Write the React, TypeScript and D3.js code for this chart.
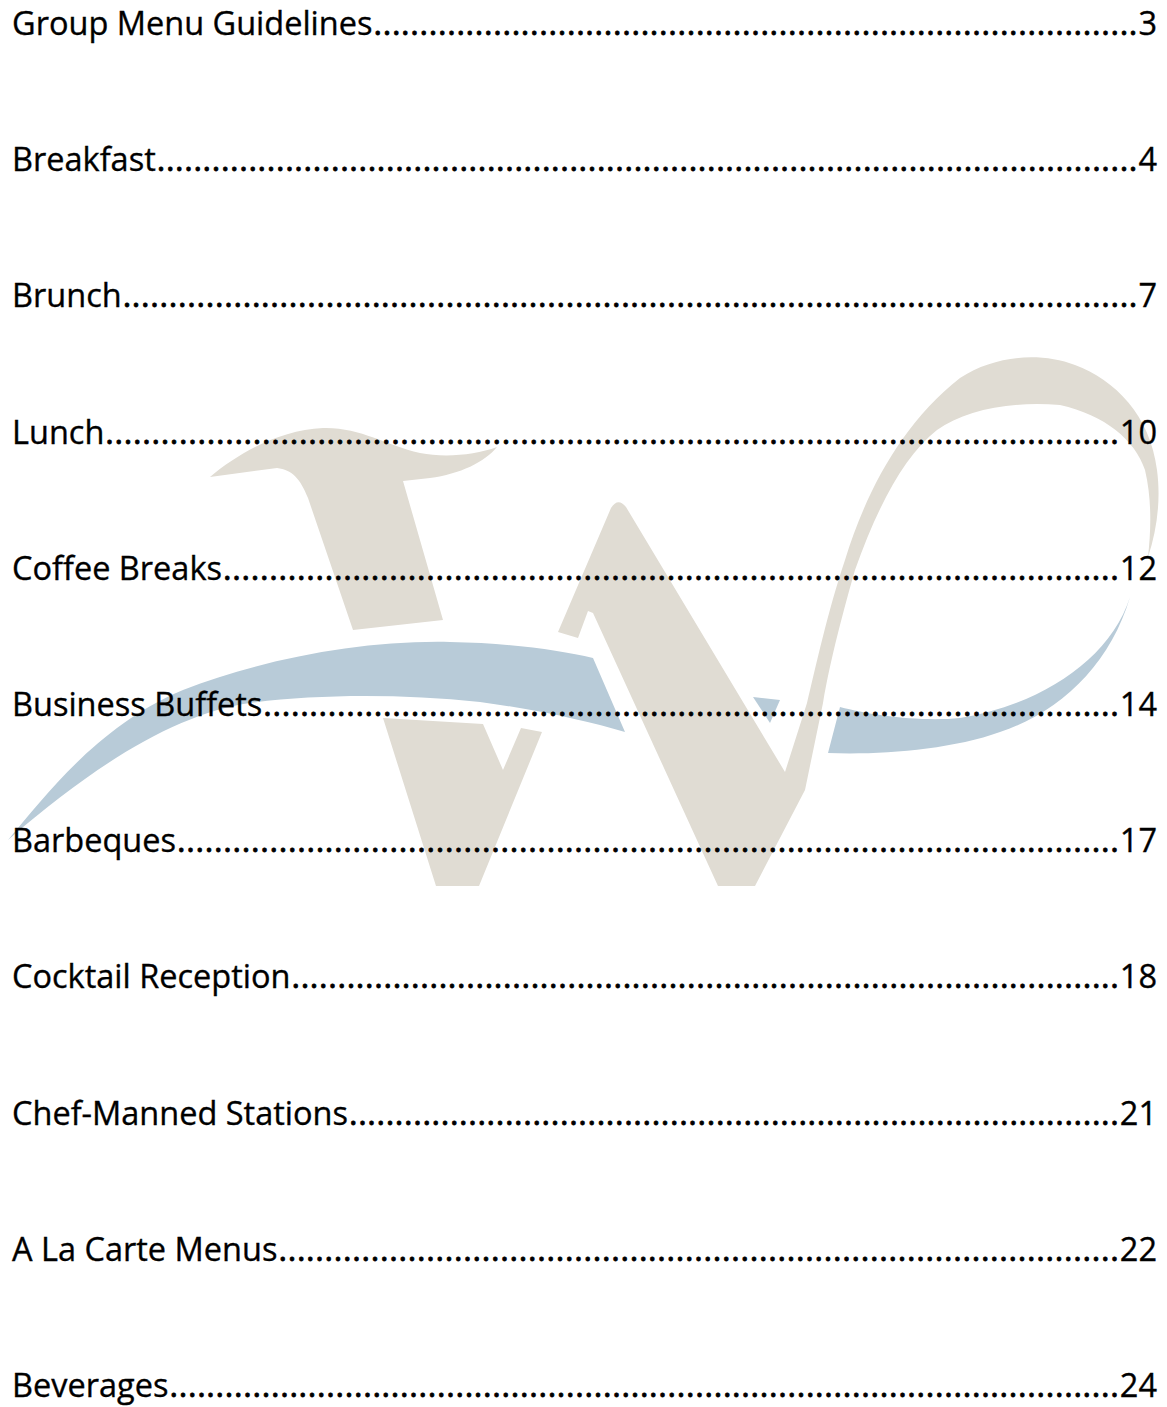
import React from "react";
import * as d3 from "d3";

// table of contents: section titles and their page numbers
const sections = [
  "Group Menu Guidelines",
  "Breakfast",
  "Brunch",
  "Lunch",
  "Coffee Breaks",
  "Business Buffets",
  "Barbeques",
  "Cocktail Reception",
  "Chef-Manned Stations",
  "A La Carte Menus",
  "Beverages",
];
const pages = [3, 4, 7, 10, 12, 14, 17, 18, 21, 22, 24];

const width = 1167;
const height = 1407;

// watermark "W" logo shapes
const beige = "#e0dcd3";
const blue = "#b8cbd8";
const logoBeige = [
  // left stroke with serif
  "M210,477 C240,452 280,430 323,428 C360,427 385,445 420,453 C445,458 475,455 497,447 C485,462 460,474 430,478 L403,481 L443,620 L353,630 L308,498 C300,478 292,470 277,468 Z",
  // lower part of left V
  "M383,718 L483,724 L503,770 L521,728 L542,732 L479,886 L436,886 Z",
  // middle stroke and loop
  "M611,508 Q618,497 626,507 L785,772 L807,703 C815,670 828,610 845,560 C865,495 900,425 960,378 C995,355 1040,352 1075,365 C1115,380 1150,415 1157,470 C1161,500 1157,530 1148,557 C1151,530 1152,500 1145,470 C1135,440 1105,415 1060,405 C1010,401 965,410 937,430 C905,455 878,505 855,570 C845,605 830,660 823,703 L805,790 L755,886 L718,886 L593,613 L588,611 L578,638 L558,632 Z",
];
const logoBlue = [
  "M8,840 C50,790 100,725 183,690 C260,660 360,640 450,642 C510,643 560,650 593,658 L625,732 C590,722 540,710 480,702 C400,694 320,694 250,703 C180,713 100,760 8,840 Z",
  "M1130,597 C1110,660 1040,705 960,718 C920,722 870,715 840,707 L828,753 C880,755 950,750 1000,732 C1060,712 1110,665 1130,597 Z",
  "M753,697 L780,700 L770,723 Z",
];

function drawToc(svgEl: SVGSVGElement) {
  const svg = d3.select(svgEl);
  svg.selectAll("*").remove();

  svg.append("rect").attr("width", width).attr("height", height).attr("fill", "#fff");

  const logo = svg.append("g");
  logo.selectAll("path.b").data(logoBeige).join("path").attr("class", "b").attr("fill", beige).attr("d", d => d);
  logo.selectAll("path.c").data(logoBlue).join("path").attr("class", "c").attr("fill", blue).attr("d", d => d);

  const y = d3.scalePoint<string>().domain(sections).range([35, 1397]);
  const left = 12;
  const right = 1157;

  const rows = svg.append("g")
      .attr("font-family", "'Open Sans', sans-serif")
      .attr("font-size", 32.5)
      .attr("fill", "#000")
      .attr("stroke", "#000")
      .attr("stroke-width", 0.35)
    .selectAll("g")
    .data(sections)
    .join("g")
      .attr("transform", d => `translate(0,${y(d)})`);

  rows.append("text")
      .attr("class", "label")
      .attr("x", left)
      .text(d => d);

  rows.append("text")
      .attr("class", "page")
      .attr("x", right)
      .attr("text-anchor", "end")
      .text((d, i) => pages[i]);

  rows.each(function () {
    const g = d3.select(this);
    const label = g.select<SVGTextElement>("text.label").node()!;
    const page = g.select<SVGTextElement>("text.page").node()!;
    const start = left + label.getComputedTextLength() + 1;
    const end = right - page.getComputedTextLength() - 1;
    const gap = end - start;
    const n = Math.max(1, Math.round(gap / 9.2));
    g.append("text")
        .attr("x", start)
        .attr("textLength", gap)
        .attr("lengthAdjust", "spacing")
        .attr("stroke-width", 0.8)
        .text(".".repeat(n));
  });
}

const App: React.FunctionComponent = () => {
  const svg = React.useRef<SVGSVGElement>(null);

  React.useEffect(() => {
    document.body.style.margin = "0";
    if (svg.current) drawToc(svg.current);
    document.fonts?.ready.then(() => {
      if (svg.current) drawToc(svg.current);
    });
  }, []);

  return (
    <div id="chart">
      <svg ref={svg} width={width} height={height} style={{ display: "block" }} />
    </div>
  );
};

export default App;
